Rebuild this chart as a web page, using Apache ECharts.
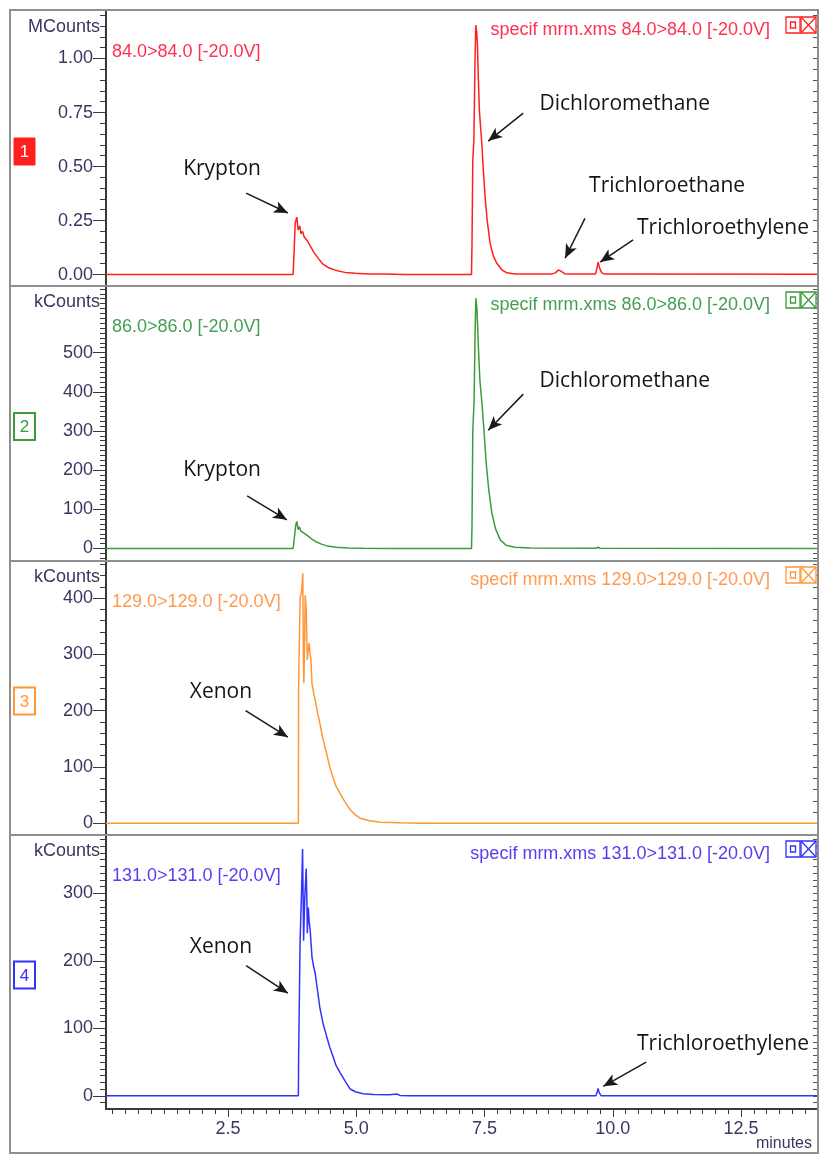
<!DOCTYPE html>
<html>
<head>
<meta charset="utf-8">
<script src="https://cdn.jsdelivr.net/npm/echarts@6/dist/echarts.min.js"></script>
<style>
html,body{margin:0;padding:0;background:#fff;}
#chart{width:819px;height:1157px;}
</style>
</head>
<body>
<div id="chart"></div>
<script>
// ---------------- DATA ----------------
const timeRange = [0.12, 13.98];           // minutes
const xTicks = [2.5, 5.0, 7.5, 10.0, 12.5];

// panel 1 : 84.0>84.0 (MCounts)
const redTrace = [
  [0.12,0.0],[3.768,0.0],[3.789,0.12],[3.809,0.24],[3.840,0.266],[3.865,0.206],[3.896,0.225],[3.921,0.19],
  [3.952,0.20],[3.982,0.175],[4.033,0.16],[4.095,0.135],[4.166,0.105],[4.258,0.075],[4.349,0.048],[4.472,0.03],
  [4.625,0.018],[4.778,0.01],[4.981,0.006],[5.236,0.003],[5.542,0.002],[5.95,0.0],
  [7.245,0.0],[7.255,0.15],[7.270,0.53],[7.291,0.62],[7.311,0.95],[7.328,1.155],[7.347,1.12],[7.360,1.07],
  [7.377,0.92],[7.398,0.76],[7.423,0.68],[7.446,0.607],[7.479,0.47],[7.510,0.36],[7.551,0.25],[7.608,0.144],
  [7.673,0.085],[7.738,0.052],[7.836,0.022],[7.933,0.008],[8.091,0.003],[8.499,0.002],
  [8.805,0.002],[8.886,0.009],[8.937,0.021],[8.988,0.016],[9.060,0.004],[9.111,0.002],
  [9.661,0.002],[9.691,0.03],[9.712,0.058],[9.742,0.03],[9.783,0.008],[9.844,0.002],[13.98,0.001]
];
// panel 2 : 86.0>86.0 (kCounts)
const greenTrace = [
  [0.12,0],[3.768,0],[3.794,30],[3.819,60],[3.840,69],[3.865,48],[3.891,55],[3.921,44],[3.952,47],[3.993,38],
  [4.054,32],[4.135,24],[4.217,17],[4.319,11],[4.441,6],[4.604,3],[4.829,1.5],[5.134,0.5],[5.644,0],
  [7.245,0],[7.255,60],[7.270,300],[7.296,380],[7.316,560],[7.331,639],[7.352,610],[7.377,520],[7.408,430],
  [7.449,370],[7.489,300],[7.530,220],[7.581,150],[7.642,90],[7.714,50],[7.806,22],[7.918,8],[8.091,3],[8.397,1],
  [9.671,0.5],[9.712,3],[9.753,0.5],[13.98,0]
];
// panel 3 : 129.0>129.0 (kCounts)
const orangeTrace = [
  [0.12,0],[3.870,0],[3.875,249],[3.901,250],[3.904,400],[3.931,410],[3.957,444],[3.967,300],[3.977,249],
  [3.993,330],[4.003,405],[4.013,395],[4.023,379],[4.044,290],[4.064,310],[4.079,320],[4.100,300],[4.115,290],
  [4.135,249],[4.166,232],[4.197,219],[4.237,200],[4.288,178],[4.349,150],[4.421,124],[4.482,100],[4.543,82],
  [4.604,66],[4.676,54],[4.778,38],[4.880,24],[4.981,15],[5.073,9],[5.236,5],[5.461,2],[5.848,1],[6.256,0],
  [9.691,0],[9.712,1.5],[9.732,0],[13.98,0]
];
// panel 4 : 131.0>131.0 (kCounts)
const blueTrace = [
  [0.12,0],[3.870,0],[3.875,59],[3.901,60],[3.904,230],[3.931,300],[3.952,366],[3.962,300],[3.972,230],
  [3.993,290],[4.023,337],[4.038,280],[4.044,241],[4.064,279],[4.079,260],[4.100,245],[4.135,206],[4.166,192],
  [4.197,182],[4.237,160],[4.288,131],[4.349,108],[4.421,88],[4.482,72],[4.543,59],[4.604,45],[4.686,34],
  [4.778,22],[4.880,10],[4.981,6],[5.134,3],[5.338,2],[5.644,1.5],[5.797,2.5],[5.848,0.5],[6.052,0],
  [9.671,0],[9.696,6],[9.712,11],[9.732,5],[9.773,0],[13.98,0]
];

const yTicks1 = [0, 0.25, 0.5, 0.75, 1.0];
const yTicks2 = [0, 100, 200, 300, 400, 500];
const yTicks3 = [0, 100, 200, 300, 400];
const yTicks4 = [0, 100, 200, 300];
const yRanges = [[-0.053, 1.22], [-32, 670], [-20.8, 466], [-19.6, 386.6]];
const yMinorSteps = [0.05, 12.5, 20, 10];

const units = ['MCounts', 'kCounts', 'kCounts', 'kCounts'];
const ionLabels = ['84.0>84.0 [-20.0V]', '86.0>86.0 [-20.0V]', '129.0>129.0 [-20.0V]', '131.0>131.0 [-20.0V]'];
const fileLabels = ['specif mrm.xms 84.0>84.0 [-20.0V]', 'specif mrm.xms 86.0>86.0 [-20.0V]',
                    'specif mrm.xms 129.0>129.0 [-20.0V]', 'specif mrm.xms 131.0>131.0 [-20.0V]'];
const panelNumbers = ['1', '2', '3', '4'];

// annotations: text position and arrow (data coordinates of each panel)
const annotations = [
  {panel:0, text:'Krypton',            at:[2.382,0.49],  from:[2.851,0.377], to:[3.666,0.285]},
  {panel:0, text:'Dichloromethane',    at:[10.232,0.79], from:[8.254,0.747], to:[7.571,0.618]},
  {panel:0, text:'Trichloroethane',    at:[11.058,0.41], from:[9.457,0.26],  to:[9.070,0.076]},
  {panel:0, text:'Trichloroethylene',  at:[12.148,0.215],from:[10.395,0.16], to:[9.753,0.058]},
  {panel:1, text:'Krypton',            at:[2.382,200],   from:[2.871,134],   to:[3.646,73]},
  {panel:1, text:'Dichloromethane',    at:[10.232,427],  from:[8.254,394],   to:[7.571,302]},
  {panel:2, text:'Xenon',              at:[2.361,233],   from:[2.841,200],   to:[3.666,153]},
  {panel:3, text:'Xenon',              at:[2.361,221],   from:[2.851,193],   to:[3.666,152]},
  {panel:3, text:'Trichloroethylene',  at:[12.148,76],   from:[10.650,50],   to:[9.814,14]}
];

// ---------------- STYLE / LAYOUT ----------------
const traces = [redTrace, greenTrace, orangeTrace, blueTrace];
const yTicks = [yTicks1, yTicks2, yTicks3, yTicks4];
const colors = ['#ff1f1f', '#3c9c3c', '#ff9838', '#3232ff'];
const textColors = ['#ff3050', '#44a050', '#ff9a50', '#5a3cf0'];
const gridTop = [11, 286, 561, 835];
const gridH = [275, 275, 274, 274];
const gridLeft = 106, gridWidth = 711;
const axisColor = '#3a3a3a';
const labelColor = '#3d3560';
const tickFont = 'Liberation Sans, Arial, sans-serif';
const fs = 18;

function stepsIn(min, max, step) {
  const out = [];
  for (let k = Math.ceil(min / step - 1e-9); k * step <= max + 1e-9; k++) out.push(+(k * step).toFixed(6));
  return out;
}

const grids = [], xAxes = [], yAxes = [], series = [], graphics = [];

for (let p = 0; p < 4; p++) {
  grids.push({left: gridLeft, top: gridTop[p], width: gridWidth, height: gridH[p]});
  xAxes.push({
    type: 'value', gridIndex: p, min: timeRange[0], max: timeRange[1], show: p === 3, position: 'bottom',
    axisLine: {show: true, onZero: false, lineStyle: {color: axisColor, width: 2}},
    axisTick: {show: true, length: 8, customValues: xTicks, lineStyle: {color: axisColor, width: 1}},
    axisLabel: {show: true, customValues: xTicks, formatter: v => v.toFixed(1), color: labelColor,
                fontFamily: tickFont, fontSize: fs, margin: 11},
    splitLine: {show: false}
  });
  const [mn, mx] = yRanges[p];
  const minor = stepsIn(mn, mx, yMinorSteps[p]);
  // main left axis
  yAxes.push({
    type: 'value', gridIndex: p, min: mn, max: mx, position: 'left',
    axisLine: {show: true, onZero: false, lineStyle: {color: axisColor, width: 2}},
    axisTick: {show: true, length: 13, customValues: yTicks[p], lineStyle: {color: axisColor, width: 1}},
    axisLabel: {show: true, customValues: yTicks[p], margin: 13, color: labelColor, fontFamily: tickFont, fontSize: fs,
                formatter: v => p === 0 ? v.toFixed(2) : String(Math.round(v))},
    splitLine: {show: false}
  });
  // minor ticks left
  yAxes.push({
    type: 'value', gridIndex: p, min: mn, max: mx, position: 'left',
    axisLine: {show: false, onZero: false},
    axisTick: {show: true, length: 6, customValues: minor, lineStyle: {color: axisColor, width: 1}},
    axisLabel: {show: false}, splitLine: {show: false}
  });
  // right side ticks
  yAxes.push({
    type: 'value', gridIndex: p, min: mn, max: mx, position: 'right',
    axisLine: {show: true, onZero: false, lineStyle: {color: '#9a9a9a', width: 1}},
    axisTick: {show: true, inside: true, length: 4, customValues: minor, lineStyle: {color: '#555', width: 1}},
    axisLabel: {show: false}, splitLine: {show: false}
  });

  const ann = annotations.filter(a => a.panel === p);
  series.push({
    type: 'line', xAxisIndex: p, yAxisIndex: p * 3, data: traces[p],
    showSymbol: false, symbol: 'none', silent: true,
    lineStyle: {color: colors[p], width: 1.5}, itemStyle: {color: colors[p]},
    markLine: {
      silent: true, symbol: ['none', 'arrow'], symbolSize: [9, 14], animation: false,
      lineStyle: {color: '#1a1a1a', width: 1.5, type: 'solid'}, label: {show: false},
      emphasis: {disabled: true},
      data: ann.map(a => [{coord: a.from}, {coord: a.to}])
    },
    markPoint: {
      silent: true, symbol: 'circle', symbolSize: 1, animation: false,
      itemStyle: {color: 'rgba(0,0,0,0)'},
      label: {show: true, position: 'inside', formatter: '{b}', color: '#151515',
              fontFamily: 'Open Sans, sans-serif', fontSize: 21},
      data: ann.map(a => ({coord: a.at, name: a.text, value: 0}))
    }
  });

  // texts and decorations
  const top = gridTop[p];
  graphics.push({type: 'text', x: 100, y: top + 16, style: {
    text: units[p], fill: labelColor, font: fs + 'px ' + tickFont, textAlign: 'right', textVerticalAlign: 'middle'}});
  graphics.push({type: 'text', x: 112, y: top + 41, style: {
    text: ionLabels[p], fill: textColors[p], font: fs + 'px ' + tickFont, textAlign: 'left', textVerticalAlign: 'middle'}});
  graphics.push({type: 'text', x: 770, y: top + 19, style: {
    text: fileLabels[p], fill: textColors[p], font: fs + 'px ' + tickFont, textAlign: 'right', textVerticalAlign: 'middle'}});
  // icons
  graphics.push({type: 'rect', z: 50, shape: {x: 786, y: top + 6, width: 14, height: 16},
    style: {fill: '#fff', stroke: colors[p], lineWidth: 1.3}});
  graphics.push({type: 'rect', z: 51, shape: {x: 790.5, y: top + 11, width: 5, height: 6},
    style: {fill: 'none', stroke: colors[p], lineWidth: 1.3}});
  graphics.push({type: 'rect', z: 50, shape: {x: 801, y: top + 6, width: 15, height: 16},
    style: {fill: '#fff', stroke: colors[p], lineWidth: 1.3}});
  graphics.push({type: 'line', z: 51, shape: {x1: 801, y1: top + 6, x2: 816, y2: top + 22},
    style: {stroke: colors[p], lineWidth: 1.3}});
  graphics.push({type: 'line', z: 51, shape: {x1: 816, y1: top + 6, x2: 801, y2: top + 22},
    style: {stroke: colors[p], lineWidth: 1.3}});
  // panel number box
  const cy = top + gridH[p] / 2 + 3;
  graphics.push({type: 'rect', shape: {x: 14, y: cy - 13.5, width: 21, height: 27},
    style: p === 0 ? {fill: colors[p], stroke: colors[p], lineWidth: 1}
                   : {fill: '#fff', stroke: colors[p], lineWidth: 2}});
  graphics.push({type: 'text', x: 24.5, y: cy + 1, style: {
    text: panelNumbers[p], fill: p === 0 ? '#fff' : colors[p], font: '17px ' + tickFont,
    textAlign: 'center', textVerticalAlign: 'middle'}});
}

// minor x ticks on bottom axis
xAxes.push({
  type: 'value', gridIndex: 3, min: timeRange[0], max: timeRange[1], position: 'bottom',
  axisLine: {show: false, onZero: false},
  axisTick: {show: true, length: 5, customValues: stepsIn(timeRange[0], timeRange[1], 0.25), lineStyle: {color: axisColor, width: 1}},
  axisLabel: {show: false}, splitLine: {show: false}
});

// frame and separators
graphics.push({type: 'rect', z: 100, shape: {x: 10, y: 10, width: 808, height: 1143},
  style: {fill: 'none', stroke: '#8f8f8f', lineWidth: 2}});
[286, 561, 835].forEach(y => graphics.push({type: 'line', z: 100,
  shape: {x1: 10, y1: y, x2: 818, y2: y}, style: {stroke: '#8f8f8f', lineWidth: 2}}));
graphics.push({type: 'text', x: 812, y: 1144, style: {
  text: 'minutes', fill: labelColor, font: '16px ' + tickFont, textAlign: 'right', textVerticalAlign: 'middle'}});

const chart = echarts.init(document.getElementById('chart'), null, {renderer: 'canvas'});
chart.setOption({
  animation: false,
  backgroundColor: '#ffffff',
  grid: grids, xAxis: xAxes, yAxis: yAxes, series: series,
  graphic: {elements: graphics}
});
</script>
</body>
</html>
